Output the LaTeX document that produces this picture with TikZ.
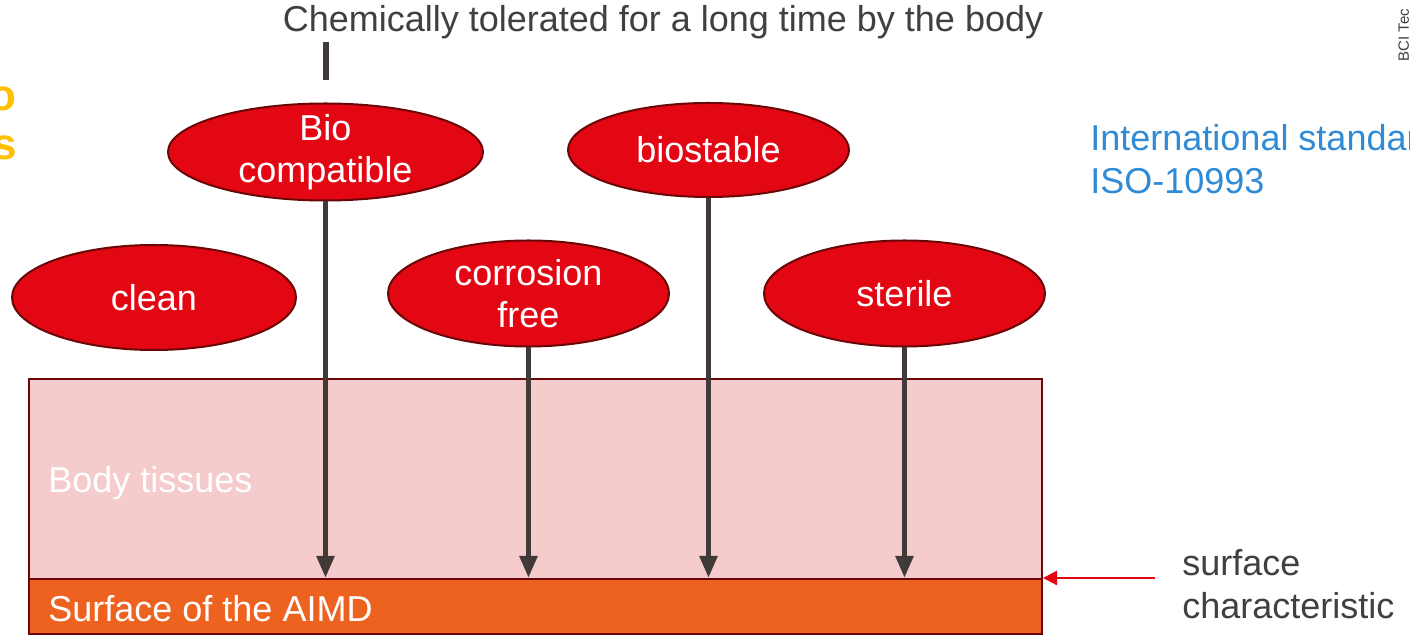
\documentclass[tikz,border=0pt]{standalone}
\usepackage{fontspec}
\setmainfont{Liberation Sans}
\usetikzlibrary{shapes.geometric,arrows.meta}
\definecolor{elred}{HTML}{E30613}
\definecolor{elborder}{HTML}{6B0606}
\definecolor{tissue}{HTML}{F5CBCC}
\definecolor{surforange}{HTML}{EE6220}
\definecolor{arrowgray}{HTML}{403A38}
\definecolor{txtgray}{HTML}{404040}
\definecolor{isoblue}{HTML}{2F8BD6}
\definecolor{goldtxt}{HTML}{FFC000}
\tikzset{
  prop/.style={ellipse, draw=elborder, line width=1pt, fill=elred, text=white,
    inner xsep=0pt, inner ysep=-3pt, align=center, font=\fontsize{18}{21}\selectfont},
  downarrow/.style={draw=arrowgray, line width=2.6pt,
    -{Triangle[length=11pt,width=8.5pt]}},
  layer/.style={draw=elborder, line width=1pt, minimum width=506.5pt, inner sep=0pt, anchor=north west},
  lbl/.style={font=\fontsize{18}{21.3}\selectfont, align=left, inner sep=0pt}
}
\begin{document}
\begin{tikzpicture}[x=0.5pt,y=-0.5pt]
\useasboundingbox (0,0) rectangle (1410,635);
% layers
\node[layer, fill=tissue, minimum height=100pt] (tissue) at (28,378) {};
\node[layer, fill=surforange, minimum height=27.5pt] (surf) at (28,578) {};
\node[lbl, text=white, anchor=west] (tissuelbl) at (48,483) {Body tissues};
\node[lbl, text=white, anchor=west] (surflbl) at (48,609) {Surface of the AIMD};
% ellipses
\node[prop, minimum width=157.5pt, minimum height=48.5pt] (bio) at (325.5,152) {Bio\\compatible};
\node[prop, minimum width=140.5pt, minimum height=47pt] (biostable) at (708.5,150) {biostable};
\node[prop, minimum width=142pt, minimum height=52.5pt] (clean) at (154,297.5) {clean};
\node[prop, minimum width=140.5pt, minimum height=53pt] (corr) at (528.5,293.5) {corrosion\\free};
\node[prop, minimum width=140.5pt, minimum height=53pt] (sterile) at (904.5,293.5) {sterile};
% arrows
\draw[downarrow] (bio.south) -- (bio.south |- surf.north);
\draw[downarrow] (corr.south) -- (corr.south |- surf.north);
\draw[downarrow] (biostable.south) -- (biostable.south |- surf.north);
\draw[downarrow] (sterile.south) -- (sterile.south |- surf.north);
% title
\node[lbl, text=txtgray] (title) at (663,22) {Chemically tolerated for a long time by the body};
\coordinate (ta) at (326,42);
\coordinate (tb) at (326,80);
\draw[arrowgray, line width=3pt] (ta) -- (tb);
% ISO
\node[lbl, text=isoblue, anchor=north west] (iso) at (1090,124) {International standard\\ISO-10993};
% surface characteristic
\node[lbl, text=txtgray, anchor=north west] (sc) at (1182,549) {surface\\characteristic};
\coordinate (rs) at (1155,578);
\draw[elred, line width=1.2pt, -{Triangle[length=7pt,width=7pt]}] (rs) -- (surf.north east);
% cut-off yellow text
\node[lbl, text=goldtxt, font=\fontsize{22}{24.5}\bfseries\selectfont, anchor=north east, align=right] (gold) at (17,86) {o\\s};
% rotated side text
\node[font=\fontsize{7.5}{8}\selectfont, text=txtgray, rotate=90, anchor=north west, inner sep=0pt] (bci) at (1398,62) {BCI Tec};
\end{tikzpicture}
\end{document}
